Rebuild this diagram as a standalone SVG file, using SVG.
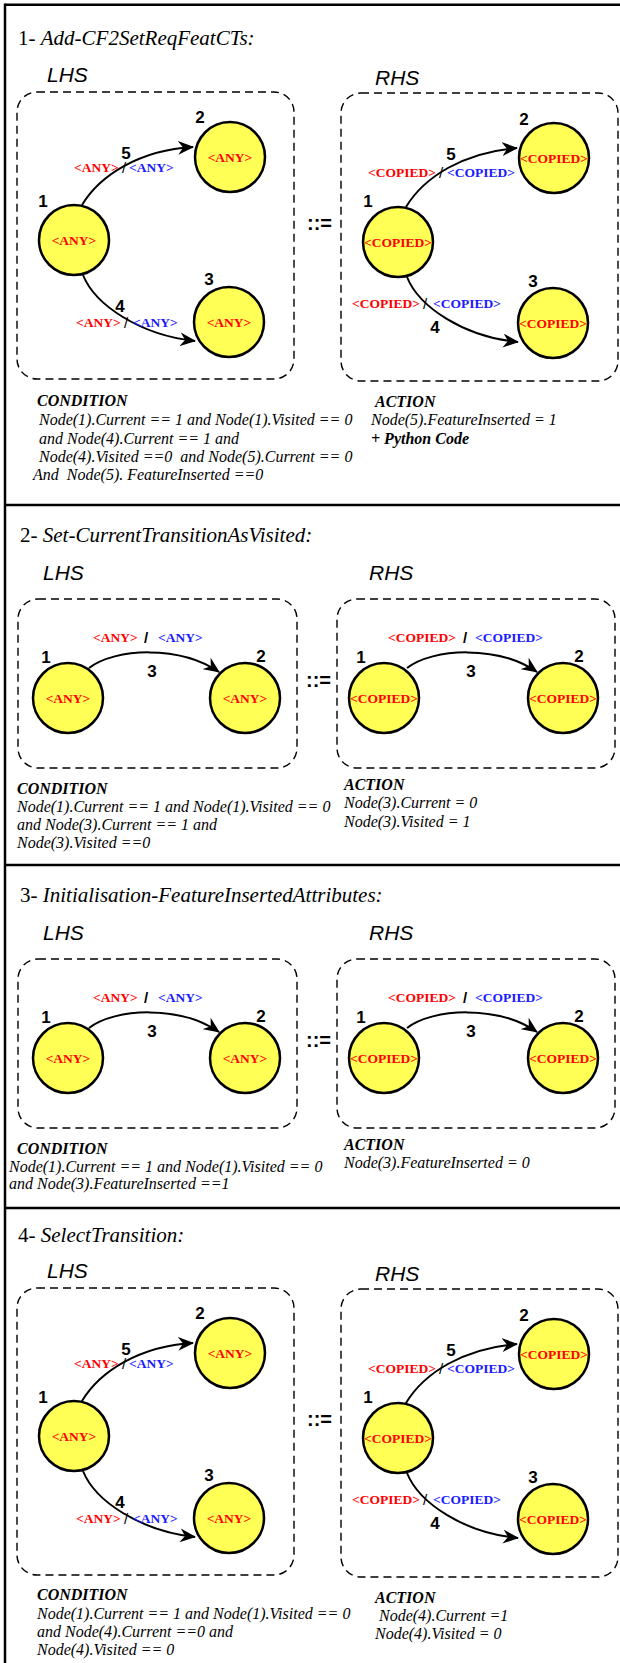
<svg xmlns="http://www.w3.org/2000/svg" width="620" height="1663" viewBox="0 0 620 1663">
  <style>
    .frame { stroke: #000; stroke-width: 2.5; fill: none; }
    .box { fill: none; stroke: #000; stroke-width: 1.4; stroke-dasharray: 8 5; }
    .node circle { fill: #ffff55; stroke: #000; stroke-width: 2.5; }
    .nl { font: bold 13.5px "Liberation Serif", serif; fill: #ff0000; text-anchor: middle; }
    .num { font: bold 17px "Liberation Sans", sans-serif; fill: #000; text-anchor: middle; }
    .red { font: bold 13.5px "Liberation Serif", serif; fill: #ff0000; }
    .blue { font: bold 13.5px "Liberation Serif", serif; fill: #1a1aff; }
    .sl { font: 15px "Liberation Sans", sans-serif; fill: #000; text-anchor: middle; }
    .slb { font: bold 15px "Liberation Sans", sans-serif; fill: #000; text-anchor: middle; }
    .side { font: italic 21px "Liberation Sans", sans-serif; fill: #000; }
    .title { font: 21px "Liberation Serif", serif; fill: #000; }
    .it { font-style: italic; }
    .op { font: bold 20px "Liberation Sans", sans-serif; fill: #000; }
    .cond { font: italic 16px "Liberation Serif", serif; fill: #000; white-space: pre; }
    .hd { font: bold italic 16px "Liberation Serif", serif; fill: #000; }
    .edge { fill: none; stroke: #000; stroke-width: 2; marker-end: url(#arrow); }
  </style>
  <defs>
    <marker id="arrow" viewBox="0 0 16 14" refX="15" refY="7" markerWidth="16" markerHeight="14" orient="auto" markerUnits="userSpaceOnUse">
      <path d="M0,0 L16,7 L0,14 L5,7 Z" fill="#000"/>
    </marker>
  </defs>

  <!-- page frame and section dividers -->
  <g id="frame">
    <line class="frame" x1="5" y1="4.7" x2="620" y2="4.7"/>
    <line class="frame" x1="5" y1="3.5" x2="5" y2="1663"/>
    <line class="frame" x1="5" y1="505" x2="620" y2="505"/>
    <line class="frame" x1="5" y1="865" x2="620" y2="865"/>
    <line class="frame" x1="5" y1="1208" x2="620" y2="1208"/>
  </g>

  <!-- ===== Rule 1 ===== -->
  <g id="rule1">
    <text class="title" x="18" y="45">1- <tspan class="it">Add-CF2SetReqFeatCTs:</tspan></text>
    <text class="side" x="47" y="82">LHS</text>
    <text class="side" x="375" y="85">RHS</text>
    <rect class="box" x="17" y="92" width="277" height="287" rx="20"/>
    <rect class="box" x="341" y="93" width="277" height="288" rx="20"/>
    <text class="op" x="307" y="230">::=</text>

    <g id="r1-connectors">
      <path class="edge" d="M82,205 C100,175 140,150 193,147"/>
      <path class="edge" d="M83,275 C95,305 140,335 195,341"/>
      <path class="edge" d="M406,207 C424,177 464,152 517,148"/>
      <path class="edge" d="M407,277 C419,307 464,337 518,342"/>
      <text class="num" x="126" y="159">5</text>
      <text class="red" x="74" y="172">&lt;ANY&gt;</text>
      <text class="sl" x="124" y="173">/</text>
      <text class="blue" x="129" y="172">&lt;ANY&gt;</text>
      <text class="num" x="120" y="312">4</text>
      <text class="red" x="76" y="327">&lt;ANY&gt;</text>
      <text class="sl" x="126" y="328">/</text>
      <text class="blue" x="133" y="327">&lt;ANY&gt;</text>
      <text class="num" x="451" y="160">5</text>
      <text class="red" x="368" y="177">&lt;COPIED&gt;</text>
      <text class="sl" x="441" y="178">/</text>
      <text class="blue" x="447" y="177">&lt;COPIED&gt;</text>
      <text class="num" x="435" y="333">4</text>
      <text class="red" x="352" y="308">&lt;COPIED&gt;</text>
      <text class="sl" x="425" y="309">/</text>
      <text class="blue" x="433" y="308">&lt;COPIED&gt;</text>
    </g>

    <g id="r1-lhs-n1" class="node"><circle cx="74" cy="240" r="35"/><text class="nl" x="74" y="244.5">&lt;ANY&gt;</text><text class="num" x="43" y="207">1</text></g>
    <g id="r1-lhs-n2" class="node"><circle cx="230" cy="157" r="35"/><text class="nl" x="230" y="161.5">&lt;ANY&gt;</text><text class="num" x="200" y="123">2</text></g>
    <g id="r1-lhs-n3" class="node"><circle cx="229" cy="322" r="35"/><text class="nl" x="229" y="326.5">&lt;ANY&gt;</text><text class="num" x="209" y="285">3</text></g>
    <g id="r1-rhs-n1" class="node"><circle cx="398" cy="242" r="35"/><text class="nl" x="398" y="246.5">&lt;COPIED&gt;</text><text class="num" x="368" y="207">1</text></g>
    <g id="r1-rhs-n2" class="node"><circle cx="554" cy="158" r="35"/><text class="nl" x="554" y="162.5">&lt;COPIED&gt;</text><text class="num" x="524" y="125">2</text></g>
    <g id="r1-rhs-n3" class="node"><circle cx="553" cy="323" r="35"/><text class="nl" x="553" y="327.5">&lt;COPIED&gt;</text><text class="num" x="533" y="287">3</text></g>

    <text class="hd" x="37" y="406">CONDITION</text>
    <text class="cond" x="39" y="425">Node(1).Current == 1 and Node(1).Visited == 0</text>
    <text class="cond" x="39" y="444">and Node(4).Current == 1 and</text>
    <text class="cond" x="39" y="462">Node(4).Visited ==0  and Node(5).Current == 0</text>
    <text class="cond" x="33" y="480">And  Node(5). FeatureInserted ==0</text>
    <text class="hd" x="375" y="407">ACTION</text>
    <text class="cond" x="371" y="425">Node(5).FeatureInserted = 1</text>
    <text class="hd" x="371" y="444">+ Python Code</text>
  </g>

  <!-- ===== Rule 2 ===== -->
  <g id="rule2">
    <text class="title" x="20" y="542">2- <tspan class="it">Set-CurrentTransitionAsVisited:</tspan></text>
    <text class="side" x="43" y="580">LHS</text>
    <text class="side" x="369" y="580">RHS</text>
    <rect class="box" x="18" y="599" width="279" height="169" rx="20"/>
    <rect class="box" x="337" y="599" width="278" height="169" rx="20"/>
    <text class="op" x="306" y="687">::=</text>

    <g id="r2-connectors">
      <path class="edge" d="M89,668 C115,648 180,645 219,672"/>
      <path class="edge" d="M407,668 C433,648 498,645 537,672"/>
      <text class="red" x="93" y="642">&lt;ANY&gt;</text>
      <text class="slb" x="146" y="643">/</text>
      <text class="blue" x="158" y="642">&lt;ANY&gt;</text>
      <text class="num" x="152" y="677">3</text>
      <text class="red" x="388" y="642">&lt;COPIED&gt;</text>
      <text class="slb" x="465" y="643">/</text>
      <text class="blue" x="475" y="642">&lt;COPIED&gt;</text>
      <text class="num" x="471" y="677">3</text>
    </g>

    <g id="r2-lhs-n1" class="node"><circle cx="68" cy="698" r="35"/><text class="nl" x="68" y="702.5">&lt;ANY&gt;</text><text class="num" x="46" y="663">1</text></g>
    <g id="r2-lhs-n2" class="node"><circle cx="245" cy="698" r="35"/><text class="nl" x="245" y="702.5">&lt;ANY&gt;</text><text class="num" x="261" y="662">2</text></g>
    <g id="r2-rhs-n1" class="node"><circle cx="384" cy="698" r="35"/><text class="nl" x="384" y="702.5">&lt;COPIED&gt;</text><text class="num" x="361" y="663">1</text></g>
    <g id="r2-rhs-n2" class="node"><circle cx="563" cy="698" r="35"/><text class="nl" x="563" y="702.5">&lt;COPIED&gt;</text><text class="num" x="579" y="662">2</text></g>

    <text class="hd" x="17" y="794">CONDITION</text>
    <text class="cond" x="17" y="812">Node(1).Current == 1 and Node(1).Visited == 0</text>
    <text class="cond" x="17" y="830">and Node(3).Current == 1 and</text>
    <text class="cond" x="17" y="848">Node(3).Visited ==0</text>
    <text class="hd" x="344" y="790">ACTION</text>
    <text class="cond" x="344" y="808">Node(3).Current = 0</text>
    <text class="cond" x="344" y="827">Node(3).Visited = 1</text>
  </g>

  <!-- ===== Rule 3 ===== -->
  <g id="rule3">
    <text class="title" x="20" y="902">3- <tspan class="it">Initialisation-FeatureInsertedAttributes:</tspan></text>
    <text class="side" x="43" y="940">LHS</text>
    <text class="side" x="369" y="940">RHS</text>
    <rect class="box" x="18" y="959" width="279" height="169" rx="20"/>
    <rect class="box" x="337" y="959" width="278" height="169" rx="20"/>
    <text class="op" x="306" y="1047">::=</text>

    <g id="r3-connectors">
      <path class="edge" d="M89,1028 C115,1008 180,1005 219,1032"/>
      <path class="edge" d="M407,1028 C433,1008 498,1005 537,1032"/>
      <text class="red" x="93" y="1002">&lt;ANY&gt;</text>
      <text class="slb" x="146" y="1003">/</text>
      <text class="blue" x="158" y="1002">&lt;ANY&gt;</text>
      <text class="num" x="152" y="1037">3</text>
      <text class="red" x="388" y="1002">&lt;COPIED&gt;</text>
      <text class="slb" x="465" y="1003">/</text>
      <text class="blue" x="475" y="1002">&lt;COPIED&gt;</text>
      <text class="num" x="471" y="1037">3</text>
    </g>

    <g id="r3-lhs-n1" class="node"><circle cx="68" cy="1058" r="35"/><text class="nl" x="68" y="1062.5">&lt;ANY&gt;</text><text class="num" x="46" y="1023">1</text></g>
    <g id="r3-lhs-n2" class="node"><circle cx="245" cy="1058" r="35"/><text class="nl" x="245" y="1062.5">&lt;ANY&gt;</text><text class="num" x="261" y="1022">2</text></g>
    <g id="r3-rhs-n1" class="node"><circle cx="384" cy="1058" r="35"/><text class="nl" x="384" y="1062.5">&lt;COPIED&gt;</text><text class="num" x="361" y="1023">1</text></g>
    <g id="r3-rhs-n2" class="node"><circle cx="563" cy="1058" r="35"/><text class="nl" x="563" y="1062.5">&lt;COPIED&gt;</text><text class="num" x="579" y="1022">2</text></g>

    <text class="hd" x="17" y="1154">CONDITION</text>
    <text class="cond" x="9" y="1172">Node(1).Current == 1 and Node(1).Visited == 0</text>
    <text class="cond" x="9" y="1189">and Node(3).FeatureInserted ==1</text>
    <text class="hd" x="344" y="1150">ACTION</text>
    <text class="cond" x="344" y="1168">Node(3).FeatureInserted = 0</text>
  </g>

  <!-- ===== Rule 4 ===== -->
  <g id="rule4">
    <text class="title" x="18" y="1242">4- <tspan class="it">SelectTransition:</tspan></text>
    <text class="side" x="47" y="1278">LHS</text>
    <text class="side" x="375" y="1281">RHS</text>
    <rect class="box" x="17" y="1288" width="277" height="287" rx="20"/>
    <rect class="box" x="341" y="1289" width="277" height="288" rx="20"/>
    <text class="op" x="307" y="1426">::=</text>

    <g id="r4-connectors">
      <path class="edge" d="M82,1401 C100,1371 140,1346 193,1343"/>
      <path class="edge" d="M83,1471 C95,1501 140,1531 195,1537"/>
      <path class="edge" d="M406,1403 C424,1373 464,1348 517,1344"/>
      <path class="edge" d="M407,1473 C419,1503 464,1533 518,1538"/>
      <text class="num" x="126" y="1355">5</text>
      <text class="red" x="74" y="1368">&lt;ANY&gt;</text>
      <text class="sl" x="124" y="1369">/</text>
      <text class="blue" x="129" y="1368">&lt;ANY&gt;</text>
      <text class="num" x="120" y="1508">4</text>
      <text class="red" x="76" y="1523">&lt;ANY&gt;</text>
      <text class="sl" x="126" y="1524">/</text>
      <text class="blue" x="133" y="1523">&lt;ANY&gt;</text>
      <text class="num" x="451" y="1356">5</text>
      <text class="red" x="368" y="1373">&lt;COPIED&gt;</text>
      <text class="sl" x="441" y="1374">/</text>
      <text class="blue" x="447" y="1373">&lt;COPIED&gt;</text>
      <text class="num" x="435" y="1529">4</text>
      <text class="red" x="352" y="1504">&lt;COPIED&gt;</text>
      <text class="sl" x="425" y="1505">/</text>
      <text class="blue" x="433" y="1504">&lt;COPIED&gt;</text>
    </g>

    <g id="r4-lhs-n1" class="node"><circle cx="74" cy="1436" r="35"/><text class="nl" x="74" y="1440.5">&lt;ANY&gt;</text><text class="num" x="43" y="1403">1</text></g>
    <g id="r4-lhs-n2" class="node"><circle cx="230" cy="1353" r="35"/><text class="nl" x="230" y="1357.5">&lt;ANY&gt;</text><text class="num" x="200" y="1319">2</text></g>
    <g id="r4-lhs-n3" class="node"><circle cx="229" cy="1518" r="35"/><text class="nl" x="229" y="1522.5">&lt;ANY&gt;</text><text class="num" x="209" y="1481">3</text></g>
    <g id="r4-rhs-n1" class="node"><circle cx="398" cy="1438" r="35"/><text class="nl" x="398" y="1442.5">&lt;COPIED&gt;</text><text class="num" x="368" y="1403">1</text></g>
    <g id="r4-rhs-n2" class="node"><circle cx="554" cy="1354" r="35"/><text class="nl" x="554" y="1358.5">&lt;COPIED&gt;</text><text class="num" x="524" y="1321">2</text></g>
    <g id="r4-rhs-n3" class="node"><circle cx="553" cy="1519" r="35"/><text class="nl" x="553" y="1523.5">&lt;COPIED&gt;</text><text class="num" x="533" y="1483">3</text></g>

    <text class="hd" x="37" y="1600">CONDITION</text>
    <text class="cond" x="37" y="1619">Node(1).Current == 1 and Node(1).Visited == 0</text>
    <text class="cond" x="37" y="1637">and Node(4).Current ==0 and</text>
    <text class="cond" x="37" y="1655">Node(4).Visited == 0</text>
    <text class="hd" x="375" y="1603">ACTION</text>
    <text class="cond" x="379" y="1621">Node(4).Current =1</text>
    <text class="cond" x="375" y="1639">Node(4).Visited = 0</text>
  </g>
</svg>
